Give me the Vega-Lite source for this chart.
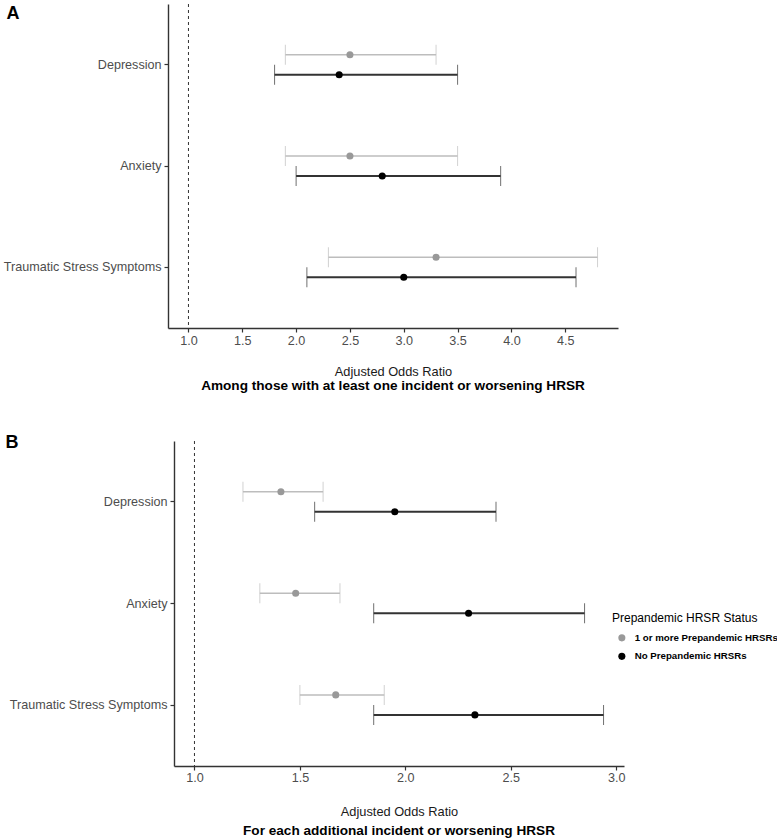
{
  "$schema": "https://vega.github.io/schema/vega-lite/v6.json",
  "background": "white",
  "padding": {"left": 3, "top": 3, "right": 0, "bottom": 0},
  "config": {
    "font": "Liberation Sans",
    "view": {"stroke": null},
    "axis": {"grid": false, "domainColor": "#333333", "domainWidth": 1.4, "tickColor": "#333333", "tickSize": 4, "tickWidth": 1.2, "labelColor": "#4d4d4d", "labelFontSize": 12.6, "titleFontSize": 12.8, "titleFontWeight": "normal", "titleColor": "#1a1a1a"}
  },
  "datasets": {
    "A": [
      {"outcome": "Depression", "group": "1 or more Prepandemic HRSRs", "est": 2.5, "lo": 1.9, "hi": 3.3},
      {"outcome": "Depression", "group": "No Prepandemic HRSRs", "est": 2.4, "lo": 1.8, "hi": 3.5},
      {"outcome": "Anxiety", "group": "1 or more Prepandemic HRSRs", "est": 2.5, "lo": 1.9, "hi": 3.5},
      {"outcome": "Anxiety", "group": "No Prepandemic HRSRs", "est": 2.8, "lo": 2.0, "hi": 3.9},
      {"outcome": "Traumatic Stress Symptoms", "group": "1 or more Prepandemic HRSRs", "est": 3.3, "lo": 2.3, "hi": 4.8},
      {"outcome": "Traumatic Stress Symptoms", "group": "No Prepandemic HRSRs", "est": 3.0, "lo": 2.1, "hi": 4.6}
    ],
    "B": [
      {"outcome": "Depression", "group": "1 or more Prepandemic HRSRs", "est": 1.41, "lo": 1.23, "hi": 1.61},
      {"outcome": "Depression", "group": "No Prepandemic HRSRs", "est": 1.95, "lo": 1.57, "hi": 2.43},
      {"outcome": "Anxiety", "group": "1 or more Prepandemic HRSRs", "est": 1.48, "lo": 1.31, "hi": 1.69},
      {"outcome": "Anxiety", "group": "No Prepandemic HRSRs", "est": 2.30, "lo": 1.85, "hi": 2.85},
      {"outcome": "Traumatic Stress Symptoms", "group": "1 or more Prepandemic HRSRs", "est": 1.67, "lo": 1.50, "hi": 1.90},
      {"outcome": "Traumatic Stress Symptoms", "group": "No Prepandemic HRSRs", "est": 2.33, "lo": 1.85, "hi": 2.94}
    ]
  },
  "columns": 1,
  "spacing": 40,
  "resolve": {"scale": {"x": "independent", "y": "independent", "color": "independent"}, "legend": {"color": "independent"}},
  "concat": [
    {
      "width": 450,
      "height": 324,
      "title": {"text": "Among those with at least one incident or worsening HRSR", "orient": "bottom", "fontSize": 13.6, "fontWeight": "bold", "color": "black", "offset": 1, "anchor": "middle"},
      "resolve": {"scale": {"color": "independent", "strokeWidth": "independent"}},
      "layer": [
        {
          "data": {"values": [{"ref": 1}]},
          "mark": {"type": "rule", "strokeDash": [3, 3], "color": "#333333", "strokeWidth": 1},
          "encoding": {"x": {"field": "ref", "type": "quantitative", "scale": {"domain": [0.81, 4.99], "nice": false, "zero": false}, "axis": {"title": "Adjusted Odds Ratio", "values": [1, 1.5, 2, 2.5, 3, 3.5, 4, 4.5], "format": ".1f", "labelPadding": 2, "titlePadding": 19}}}
        },
        {
          "data": {"name": "A"},
          "mark": {"type": "rule"},
          "encoding": {
            "y": {"field": "outcome", "type": "nominal", "sort": ["Depression", "Anxiety", "Traumatic Stress Symptoms"], "scale": {"paddingInner": 0, "paddingOuter": 0.1}, "axis": {"title": "A", "titleAngle": 0, "titleAlign": "left", "titleBaseline": "top", "titleX": -162, "titleY": 0, "titleFontSize": 18, "titleFontWeight": "bold", "titleColor": "black", "labelPadding": 3}},
            "yOffset": {"field": "group", "type": "nominal", "sort": ["1 or more Prepandemic HRSRs", "No Prepandemic HRSRs"], "scale": {"paddingInner": 0, "paddingOuter": 0, "range": [30.6, 70.6]}},
            "x": {"field": "lo", "type": "quantitative", "scale": {"domain": [0.81, 4.99], "nice": false, "zero": false}, "axis": {"title": "Adjusted Odds Ratio", "values": [1, 1.5, 2, 2.5, 3, 3.5, 4, 4.5], "format": ".1f", "labelPadding": 2, "titlePadding": 19}},
            "x2": {"field": "hi"},
            "color": {"field": "group", "type": "nominal", "scale": {"domain": ["1 or more Prepandemic HRSRs", "No Prepandemic HRSRs"], "range": ["#bdbdbd", "#333333"]}, "legend": null},
            "strokeWidth": {"field": "group", "type": "nominal", "scale": {"domain": ["1 or more Prepandemic HRSRs", "No Prepandemic HRSRs"], "range": [1.5, 2]}, "legend": null}
          }
        },
        {
          "data": {"name": "A"},
          "mark": {"type": "tick", "orient": "vertical", "size": 20},
          "encoding": {
            "y": {"field": "outcome", "type": "nominal", "sort": ["Depression", "Anxiety", "Traumatic Stress Symptoms"]},
            "yOffset": {"field": "group", "type": "nominal", "sort": ["1 or more Prepandemic HRSRs", "No Prepandemic HRSRs"]},
            "x": {"field": "lo", "type": "quantitative"},
            "color": {"field": "group", "type": "nominal", "scale": {"domain": ["1 or more Prepandemic HRSRs", "No Prepandemic HRSRs"], "range": ["#bdbdbd", "#333333"]}, "legend": null},
            "strokeWidth": {"field": "group", "type": "nominal", "scale": {"domain": ["1 or more Prepandemic HRSRs", "No Prepandemic HRSRs"], "range": [1.5, 2]}, "legend": null}
          }
        },
        {
          "data": {"name": "A"},
          "mark": {"type": "tick", "orient": "vertical", "size": 20},
          "encoding": {
            "y": {"field": "outcome", "type": "nominal", "sort": ["Depression", "Anxiety", "Traumatic Stress Symptoms"]},
            "yOffset": {"field": "group", "type": "nominal", "sort": ["1 or more Prepandemic HRSRs", "No Prepandemic HRSRs"]},
            "x": {"field": "hi", "type": "quantitative"},
            "color": {"field": "group", "type": "nominal", "scale": {"domain": ["1 or more Prepandemic HRSRs", "No Prepandemic HRSRs"], "range": ["#bdbdbd", "#333333"]}, "legend": null},
            "strokeWidth": {"field": "group", "type": "nominal", "scale": {"domain": ["1 or more Prepandemic HRSRs", "No Prepandemic HRSRs"], "range": [1.5, 2]}, "legend": null}
          }
        },
        {
          "data": {"name": "A"},
          "mark": {"type": "point", "filled": true, "opacity": 1, "size": 50},
          "encoding": {
            "y": {"field": "outcome", "type": "nominal", "sort": ["Depression", "Anxiety", "Traumatic Stress Symptoms"]},
            "yOffset": {"field": "group", "type": "nominal", "sort": ["1 or more Prepandemic HRSRs", "No Prepandemic HRSRs"]},
            "x": {"field": "est", "type": "quantitative"},
            "color": {"field": "group", "type": "nominal", "scale": {"domain": ["1 or more Prepandemic HRSRs", "No Prepandemic HRSRs"], "range": ["#999999", "#000000"]}, "legend": null}
          }
        }
      ]
    },
    {
      "width": 456,
      "height": 325,
      "title": {"text": "For each additional  incident or worsening HRSR", "orient": "bottom", "fontSize": 13.6, "fontWeight": "bold", "color": "black", "offset": 6, "anchor": "middle", "dx": 3},
      "resolve": {"scale": {"color": "independent", "strokeWidth": "independent"}},
      "layer": [
        {
          "data": {"values": [{"ref": 1}]},
          "mark": {"type": "rule", "strokeDash": [3, 3], "color": "#333333", "strokeWidth": 1},
          "encoding": {"x": {"field": "ref", "type": "quantitative", "scale": {"domain": [0.903, 3.037], "nice": false, "zero": false, "range": [6, 456]}, "axis": {"title": "Adjusted Odds Ratio", "values": [1, 1.5, 2, 2.5, 3], "format": ".1f", "labelPadding": 1, "titlePadding": 21.5, "titleX": 231}}}
        },
        {
          "data": {"name": "B"},
          "mark": {"type": "rule"},
          "encoding": {
            "y": {"field": "outcome", "type": "nominal", "sort": ["Depression", "Anxiety", "Traumatic Stress Symptoms"], "scale": {"paddingInner": 0, "paddingOuter": 0.1}, "axis": {"title": "B", "offset": -6, "titleAngle": 0, "titleAlign": "left", "titleBaseline": "top", "titleX": -169, "titleY": -8, "titleFontSize": 18, "titleFontWeight": "bold", "titleColor": "black", "labelPadding": 3}},
            "yOffset": {"field": "group", "type": "nominal", "sort": ["1 or more Prepandemic HRSRs", "No Prepandemic HRSRs"], "scale": {"paddingInner": 0, "paddingOuter": 0, "range": [30.8, 70.8]}},
            "x": {"field": "lo", "type": "quantitative", "scale": {"domain": [0.903, 3.037], "nice": false, "zero": false, "range": [6, 456]}, "axis": {"title": "Adjusted Odds Ratio", "values": [1, 1.5, 2, 2.5, 3], "format": ".1f", "labelPadding": 1, "titlePadding": 21.5, "titleX": 231}},
            "x2": {"field": "hi"},
            "color": {"field": "group", "type": "nominal", "scale": {"domain": ["1 or more Prepandemic HRSRs", "No Prepandemic HRSRs"], "range": ["#bdbdbd", "#333333"]}, "legend": null},
            "strokeWidth": {"field": "group", "type": "nominal", "scale": {"domain": ["1 or more Prepandemic HRSRs", "No Prepandemic HRSRs"], "range": [1.5, 2]}, "legend": null}
          }
        },
        {
          "data": {"name": "B"},
          "mark": {"type": "tick", "orient": "vertical", "size": 20},
          "encoding": {
            "y": {"field": "outcome", "type": "nominal", "sort": ["Depression", "Anxiety", "Traumatic Stress Symptoms"]},
            "yOffset": {"field": "group", "type": "nominal", "sort": ["1 or more Prepandemic HRSRs", "No Prepandemic HRSRs"]},
            "x": {"field": "lo", "type": "quantitative"},
            "color": {"field": "group", "type": "nominal", "scale": {"domain": ["1 or more Prepandemic HRSRs", "No Prepandemic HRSRs"], "range": ["#bdbdbd", "#333333"]}, "legend": null},
            "strokeWidth": {"field": "group", "type": "nominal", "scale": {"domain": ["1 or more Prepandemic HRSRs", "No Prepandemic HRSRs"], "range": [1.5, 2]}, "legend": null}
          }
        },
        {
          "data": {"name": "B"},
          "mark": {"type": "tick", "orient": "vertical", "size": 20},
          "encoding": {
            "y": {"field": "outcome", "type": "nominal", "sort": ["Depression", "Anxiety", "Traumatic Stress Symptoms"]},
            "yOffset": {"field": "group", "type": "nominal", "sort": ["1 or more Prepandemic HRSRs", "No Prepandemic HRSRs"]},
            "x": {"field": "hi", "type": "quantitative"},
            "color": {"field": "group", "type": "nominal", "scale": {"domain": ["1 or more Prepandemic HRSRs", "No Prepandemic HRSRs"], "range": ["#bdbdbd", "#333333"]}, "legend": null},
            "strokeWidth": {"field": "group", "type": "nominal", "scale": {"domain": ["1 or more Prepandemic HRSRs", "No Prepandemic HRSRs"], "range": [1.5, 2]}, "legend": null}
          }
        },
        {
          "data": {"name": "B"},
          "mark": {"type": "point", "filled": true, "opacity": 1, "size": 50},
          "encoding": {
            "y": {"field": "outcome", "type": "nominal", "sort": ["Depression", "Anxiety", "Traumatic Stress Symptoms"]},
            "yOffset": {"field": "group", "type": "nominal", "sort": ["1 or more Prepandemic HRSRs", "No Prepandemic HRSRs"]},
            "x": {"field": "est", "type": "quantitative"},
            "color": {"field": "group", "type": "nominal", "scale": {"domain": ["1 or more Prepandemic HRSRs", "No Prepandemic HRSRs"], "range": ["#999999", "#000000"]}, "legend": {"orient": "none", "legendX": 444, "legendY": 172, "title": "Prepandemic HRSR Status", "titleFontSize": 12, "titleFontWeight": "normal", "titleColor": "black", "labelFontSize": 9.7, "labelFontWeight": "bold", "labelColor": "black", "symbolType": "circle", "symbolSize": 50, "symbolStrokeWidth": 0, "rowPadding": 7.5, "titlePadding": 8, "labelOffset": 8, "symbolOffset": 5, "padding": 0}}
          }
        }
      ]
    }
  ]
}
